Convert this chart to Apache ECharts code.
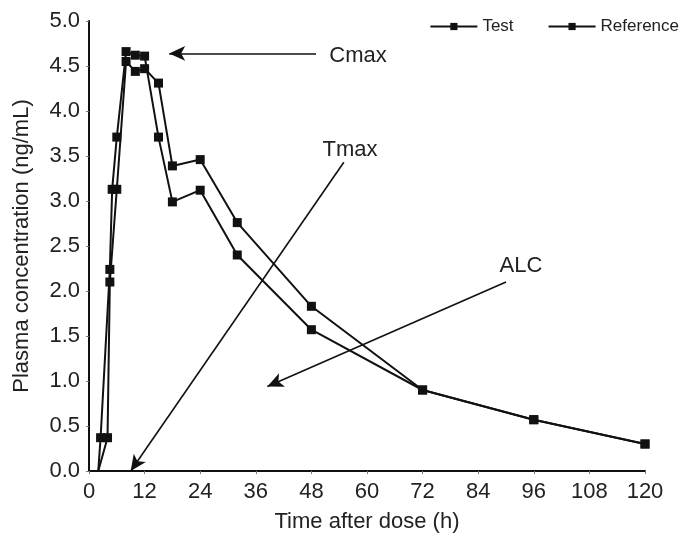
<!DOCTYPE html>
<html>
<head>
<meta charset="utf-8">
<script src="https://cdn.jsdelivr.net/npm/echarts@6/dist/echarts.min.js"></script>
<style>
  html, body { margin: 0; padding: 0; background: #fff; }
  #main { width: 686px; height: 542px; }
</style>
</head>
<body>
<div id="main"></div>
<script>
// data (time in h, concentration in ng/mL)
var testTime = [2, 2.5, 4.5, 5, 6, 8, 10, 12, 15, 18, 24, 32, 48, 72, 96, 120];
var testConc = [0, 0.37, 2.24, 3.13, 3.71, 4.66, 4.62, 4.61, 3.71, 2.99, 3.12, 2.40, 1.57, 0.90, 0.57, 0.30];
var refTime = [2, 4, 4.5, 6, 8, 10, 12, 15, 18, 24, 32, 48, 72, 96, 120];
var refConc = [0, 0.37, 2.10, 3.13, 4.55, 4.44, 4.47, 4.31, 3.39, 3.46, 2.76, 1.83, 0.90, 0.57, 0.30];
var xTicks = [0, 12, 24, 36, 48, 60, 72, 84, 96, 108, 120];
var yTicks = [0, 0.5, 1, 1.5, 2, 2.5, 3, 3.5, 4, 4.5, 5];

// the first (zero) point has no marker in the original
function pairs(xs, ys) {
    return xs.map(function (x, i) {
        if (ys[i] === 0) return { value: [x, ys[i]], symbol: 'none' }
        return [x, ys[i]]
    })
}

var font = 'Liberation Sans, Arial, sans-serif';
var ink = '#111';
var txt = '#222';

var myChart = echarts.init(document.getElementById('main'));

var arrowStyle = { color: ink, width: 1.6, type: 'solid' };

function note(text, x, y) {
    return {
        type: 'text', x: x, y: y,
        style: { text: text, font: '22px ' + font, fill: txt, textAlign: 'center', textVerticalAlign: 'middle' }
    }
}

var option = {
    animation: false,
    textStyle: { fontFamily: font, color: txt },
    grid: { left: 89, right: 41, top: 21, bottom: 71 },
    legend: {
        right: 2,
        top: 13,
        itemWidth: 47,
        itemHeight: 9,
        itemGap: 34,
        textStyle: { fontFamily: font, fontSize: 17, color: txt },
        data: ['Test', 'Reference']
    },
    xAxis: {
        type: 'value',
        min: xTicks[0],
        max: xTicks[xTicks.length - 1],
        interval: 12,
        name: 'Time after dose (h)',
        nameLocation: 'middle',
        nameGap: 40,
        nameTextStyle: { fontFamily: font, fontSize: 22, color: txt },
        axisLine: { lineStyle: { color: ink, width: 2 } },
        axisTick: { show: true, length: 3, lineStyle: { color: '#777' } },
        axisLabel: { fontFamily: font, fontSize: 22, color: txt, margin: 10 },
        splitLine: { show: false }
    },
    yAxis: {
        type: 'value',
        min: yTicks[0],
        max: yTicks[yTicks.length - 1],
        interval: 0.5,
        name: 'Plasma concentration (ng/mL)',
        nameLocation: 'middle',
        nameGap: 56,
        nameTextStyle: { fontFamily: font, fontSize: 22, color: txt },
        axisLine: { show: true, lineStyle: { color: ink, width: 2 } },
        axisTick: { show: true, length: 3, lineStyle: { color: '#777' } },
        axisLabel: {
            fontFamily: font, fontSize: 22, color: txt, margin: 9,
            formatter: function (v) { return v.toFixed(1) }
        },
        splitLine: { show: false }
    },
    series: [
        {
            name: 'Test',
            type: 'line',
            data: pairs(testTime, testConc),
            symbol: 'rect',
            symbolSize: 9,
            lineStyle: { color: ink, width: 2 },
            itemStyle: { color: ink },
            markLine: {
                silent: true,
                symbol: ['none', 'arrow'],
                symbolSize: [11, 16],
                label: { show: false },
                lineStyle: arrowStyle,
                data: [
                    [{ coord: [49, 4.64] }, { coord: [17.3, 4.64] }],
                    [{ coord: [55, 3.43] }, { coord: [9, 0] }],
                    [{ coord: [90, 2.10] }, { coord: [38.5, 0.94] }]
                ]
            }
        },
        {
            name: 'Reference',
            type: 'line',
            data: pairs(refTime, refConc),
            symbol: 'rect',
            symbolSize: 9,
            lineStyle: { color: ink, width: 2 },
            itemStyle: { color: ink }
        }
    ],
    graphic: [
        note('Cmax', 358, 56),
        note('Tmax', 350, 150),
        note('ALC', 521, 266)
    ]
};

myChart.setOption(option);
</script>
</body>
</html>
